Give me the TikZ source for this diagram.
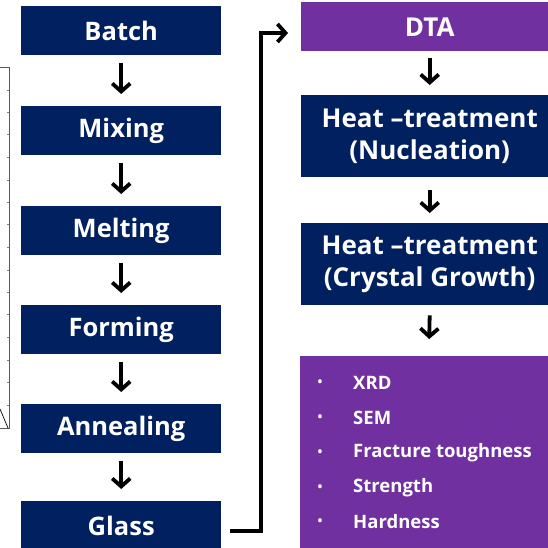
\documentclass[tikz,border=0pt]{standalone}
\usepackage{fontspec}
\setmainfont{Open Sans}
\usetikzlibrary{arrows.meta}
\definecolor{navy}{HTML}{002060}
\definecolor{purp}{HTML}{7030A0}
\begin{document}
\begin{tikzpicture}[x=1pt,y=-1pt,
  lbox/.style={fill=navy,text=white,font=\bfseries\fontsize{25.5}{30}\selectfont,minimum width=200pt,minimum height=49pt,inner sep=0pt,anchor=north west},
  rbox/.style={fill=navy,text=white,font=\bfseries\fontsize{26}{32}\selectfont,minimum width=257pt,inner sep=0pt,anchor=north west,align=center},
  pbox/.style={fill=purp,text=white,inner sep=0pt,anchor=north west},
  arr/.style={line width=3.8pt,-{Straight Barb[length=8pt,width=18pt]}},
  item/.style={text=white,font=\bfseries\fontsize{18.5}{20}\selectfont,anchor=west,inner sep=0pt},
  bul/.style={text=white,font=\bfseries\fontsize{13}{16}\selectfont,inner sep=0pt}]
\clip (0,0) rectangle (548,547);
\fill[white] (0,0) rectangle (548,547);
% left frame remnant
\draw[gray!70!black,line width=0.8pt] (-2,67) -- (9,67) -- (9,428) -- (-2,428);
\foreach \t in {90,112,134,157,180,202,224,247,270,292,314,337,360,382,405}
  \draw[gray,line width=0.5pt] (7,\t) -- (9,\t);
\draw[black,line width=0.7pt] (0,409) -- (8,428);
% left column
\node[lbox] (batch) at (21,6) {Batch};
\node[lbox] (mixing) at (21,106) {Mixing};
\node[lbox] (melting) at (21,206) {Melting};
\node[lbox] (forming) at (21,305) {Forming};
\node[lbox] (annealing) at (21,404) {Annealing};
\node[lbox] (glass) at (21,501) {Glass};
\foreach \a/\b in {batch/mixing,mixing/melting,melting/forming,forming/annealing,annealing/glass}
  \draw[arr] ([yshift=-8pt]\a.south) -- ([yshift=12pt]\b.north);
% right column
\node[rbox,fill=purp,minimum height=49pt] (dta) at (301,2) {DTA};
\node[rbox,minimum height=82pt] (nuc) at (301,95) {Heat –treatment\\(Nucleation)};
\node[rbox,minimum height=82pt] (cg) at (301,223) {Heat –treatment\\(Crystal Growth)};
\node[pbox,minimum width=258pt,minimum height=195pt] (list) at (300,356) {};
\draw[arr] ([yshift=-7pt]dta.south) -- ([yshift=10pt]nuc.north);
\draw[arr] ([yshift=-13pt]nuc.south) -- ([yshift=10pt]cg.north);
\draw[arr] ([yshift=-10pt]cg.south) -- ([yshift=17pt]list.north);
% list items
\foreach \y/\t [count=\i] in {383/XRD,418/SEM,453/Fracture toughness,488/Strength,522/Hardness}{
  \node[bul] (b\i) at (320,\y) {•};
  \node[item] (t\i) at (353,\y) {\t};
}
% connector glass -> DTA
\coordinate (g1) at (230,531);
\coordinate (g2) at (261,531);
\coordinate (g3) at (261,33);
\coordinate (g4) at (288,33);
\draw[line width=3.8pt,-{Straight Barb[length=8pt,width=18pt]}] (g1) -- (g2) -- (g3) -- (g4);
\end{tikzpicture}
\end{document}
